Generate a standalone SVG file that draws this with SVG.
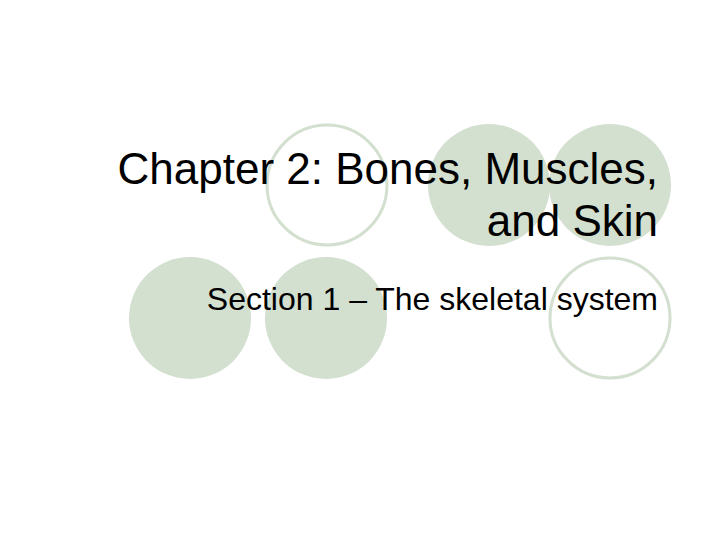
<svg xmlns="http://www.w3.org/2000/svg" width="720" height="540" viewBox="0 0 720 540">
<style>
.f{fill:#d3dfcf}
.o{fill:#fff;stroke:#d3dfcf;stroke-width:3}
text{font-family:"Liberation Sans",Arial,sans-serif;fill:#000}
</style>
<rect width="720" height="540" fill="#fff"/>
<circle class="o" cx="327" cy="185" r="60"/>
<circle class="f" cx="489" cy="185" r="61"/>
<circle class="f" cx="610" cy="185" r="61"/>
<circle class="f" cx="190" cy="318" r="61"/>
<circle class="f" cx="326" cy="318" r="61"/>
<circle class="o" cx="610" cy="318" r="60"/>
<text x="658" y="184" font-size="44" text-anchor="end">Chapter 2: Bones, Muscles,</text>
<text x="658" y="236" font-size="44" text-anchor="end">and Skin</text>
<text x="658" y="310" font-size="32" text-anchor="end">Section 1 – The skeletal system</text>
</svg>
